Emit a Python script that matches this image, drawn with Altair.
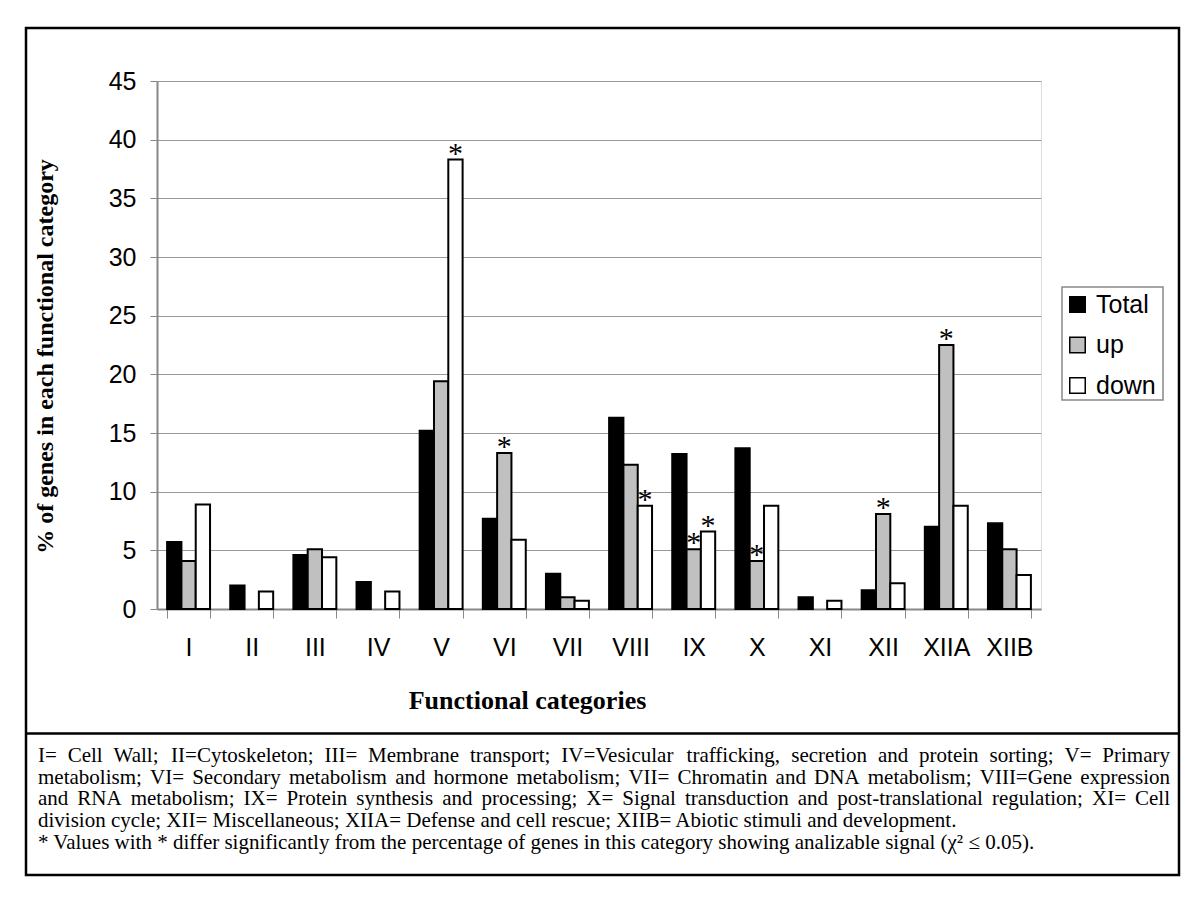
import altair as alt
import pandas as pd

categories = ["I", "II", "III", "IV", "V", "VI", "VII", "VIII", "IX", "X", "XI", "XII", "XIIA", "XIIB"]
series_names = ["Total", "up", "down"]
total = [5.7, 2.0, 4.6, 2.3, 15.2, 7.7, 3.0, 16.3, 13.2, 13.7, 1.0, 1.6, 7.0, 7.3]
up = [4.1, 0.0, 5.1, 0.0, 19.4, 13.3, 1.0, 12.3, 5.1, 4.1, 0.0, 8.1, 22.5, 5.1]
down = [8.9, 1.5, 4.4, 1.5, 38.3, 5.9, 0.7, 8.8, 6.6, 8.8, 0.7, 2.2, 8.8, 2.9]
significant = [("V", "down"), ("VI", "up"), ("VIII", "down"), ("IX", "up"), ("IX", "down"),
               ("X", "up"), ("XII", "up"), ("XIIA", "up")]
y_ticks = [0, 5, 10, 15, 20, 25, 30, 35, 40, 45]
footnote = [
    "I= Cell Wall; II=Cytoskeleton; III= Membrane transport; IV=Vesicular trafficking, secretion and protein sorting; V= Primary",
    "metabolism; VI= Secondary metabolism and hormone metabolism; VII= Chromatin and DNA metabolism; VIII=Gene expression",
    "and RNA metabolism; IX= Protein synthesis and processing; X= Signal transduction and post-translational regulation; XI= Cell",
    "division cycle; XII= Miscellaneous; XIIA= Defense and cell rescue; XIIB= Abiotic stimuli and development.",
    "* Values with * differ significantly from the percentage of genes in this category showing analizable signal (\u03c7\u00b2 \u2264 0.05).",
]
justified = [True, True, True, False, False]

rows = []
for name, vals in zip(series_names, [total, up, down]):
    for c, v in zip(categories, vals):
        if v > 0:
            rows.append({"cat": c, "series": name, "value": v})
df = pd.DataFrame(rows)

sig_rows = []
for c, s in significant:
    v = {"Total": total, "up": up, "down": down}[s][categories.index(c)]
    sig_rows.append({"cat": c, "series": s, "value": v})
sig_df = pd.DataFrame(sig_rows)

# Times-Roman advance widths (per 1000 em) used only to justify the footnote lines
_tw = {" ": 250, "!": 333, "(": 333, ")": 333, "*": 500, ",": 250, "-": 333, ".": 250, "/": 278,
       ":": 278, ";": 278, "=": 564, "?": 444,
       "A": 722, "B": 667, "C": 667, "D": 722, "E": 611, "F": 556, "G": 722, "H": 722, "I": 333,
       "J": 389, "K": 722, "L": 611, "M": 889, "N": 722, "O": 722, "P": 556, "Q": 722, "R": 667,
       "S": 556, "T": 611, "U": 722, "V": 722, "W": 944, "X": 722, "Y": 722, "Z": 611,
       "a": 444, "b": 500, "c": 444, "d": 500, "e": 444, "f": 333, "g": 500, "h": 500, "i": 278,
       "j": 278, "k": 500, "l": 278, "m": 778, "n": 500, "o": 500, "p": 500, "q": 500, "r": 333,
       "s": 389, "t": 278, "u": 500, "v": 500, "w": 722, "x": 500, "y": 500, "z": 444}
FS = 21
LEFT, RIGHT = -119, 1013   # text block edges relative to plot origin
baselines = [680.8, 702.6, 724.4, 746.2, 768.0]

def wwidth(w):
    return sum(_tw.get(ch, 500) for ch in w) * FS / 1000.0

foot_rows = []
for line, just, yb in zip(footnote, justified, baselines):
    if just:
        words = line.split(" ")
        widths = [wwidth(w) for w in words]
        gap = (RIGHT - LEFT - sum(widths)) / (len(words) - 1)
        xpos = LEFT
        for w, wd in zip(words, widths):
            foot_rows.append({"word": w, "px": xpos, "py": yb})
            xpos += wd + gap
    else:
        foot_rows.append({"word": line, "px": LEFT, "py": yb})
foot_df = pd.DataFrame(foot_rows)

W, H = 884, 528

x_enc = alt.X("cat:N", sort=categories,
              scale=alt.Scale(domain=categories, paddingInner=0.32, paddingOuter=0.16),
              axis=alt.Axis(title="Functional categories", titleFont="Liberation Serif",
                            titleFontSize=26, titleFontWeight="bold", titleColor="black",
                            titleX=370, titleY=91, titleBaseline="middle", titleAnchor="middle",
                            labelFont="Liberation Sans", labelFontSize=25, labelColor="black",
                            labelAngle=0, labelPadding=17, tickBand="extent", tickSize=9,
                            tickColor="#888", domainColor="#888", domainWidth=2, grid=False))
xoff_enc = alt.XOffset("series:N", sort=series_names,
                       scale=alt.Scale(domain=series_names, paddingInner=0, paddingOuter=0))
y_enc = alt.Y("value:Q",
              scale=alt.Scale(domain=[0, 45], nice=False, zero=True),
              axis=alt.Axis(title="%  of genes  in each functional category", titleFont="Liberation Serif",
                            titleFontSize=24, titleFontWeight="bold", titleColor="black",
                            titleX=-112, titleY=275, titleBaseline="middle", titleAngle=-90,
                            values=y_ticks, labelFont="Liberation Sans", labelFontSize=25,
                            labelColor="black", labelPadding=14, tickSize=7, tickColor="#888",
                            domainColor="#888", domainWidth=2, grid=True, gridColor="#999",
                            gridWidth=1))

bars = alt.Chart(df).mark_bar(stroke="black", strokeWidth=2).encode(
    x=x_enc, xOffset=xoff_enc, y=y_enc,
    fill=alt.Fill("series:N", sort=series_names,
                  scale=alt.Scale(domain=series_names, range=["black", "#c0c0c0", "white"]),
                  legend=alt.Legend(title=None, orient="none", legendX=908, legendY=211,
                                    symbolType="square", symbolSize=240, symbolStrokeColor="black",
                                    symbolStrokeWidth=1.5, labelFont="Liberation Sans",
                                    labelFontSize=25, labelColor="black", rowPadding=14.5,
                                    labelOffset=6, padding=0)),
)

stars = alt.Chart(sig_df).mark_text(text="*", font="Liberation Serif", fontSize=30,
                                    baseline="alphabetic", dy=3, color="black").encode(
    x=alt.X("cat:N", sort=categories), xOffset=alt.XOffset("series:N", sort=series_names),
    y=alt.Y("value:Q"),
)

one = pd.DataFrame({"k": [0]})
legend_box = alt.Chart(one).mark_rect(fill=None, stroke="#888", strokeWidth=1.5).encode(
    x=alt.value(905), x2=alt.value(1006), y=alt.value(206), y2=alt.value(319))
frame = alt.Chart(one).mark_rect(fill=None, stroke="black", strokeWidth=2.5).encode(
    x=alt.value(-131), x2=alt.value(1022), y=alt.value(-53), y2=alt.value(794))
divider = alt.Chart(one).mark_rule(stroke="black", strokeWidth=2.5).encode(
    x=alt.value(-131), x2=alt.value(1022), y=alt.value(652.5))

foot = alt.Chart(foot_df).mark_text(align="left", baseline="alphabetic", font="Liberation Serif",
                                    fontSize=FS, color="black").encode(
    x=alt.X("px:Q", scale=None, axis=None),
    y=alt.Y("py:Q", scale=None, axis=None),
    text="word:N",
)

chart = alt.layer(bars, stars, legend_box, frame, divider, foot).properties(
    width=W, height=H,
    autosize=alt.AutoSizeParams(type="none"),
    padding={"left": 149, "top": 73, "right": 150, "bottom": 275},
).configure_view(stroke="#888", strokeWidth=2).configure(background="white")

chart.save("out.html", embed_options={"renderer": "svg", "actions": False})
